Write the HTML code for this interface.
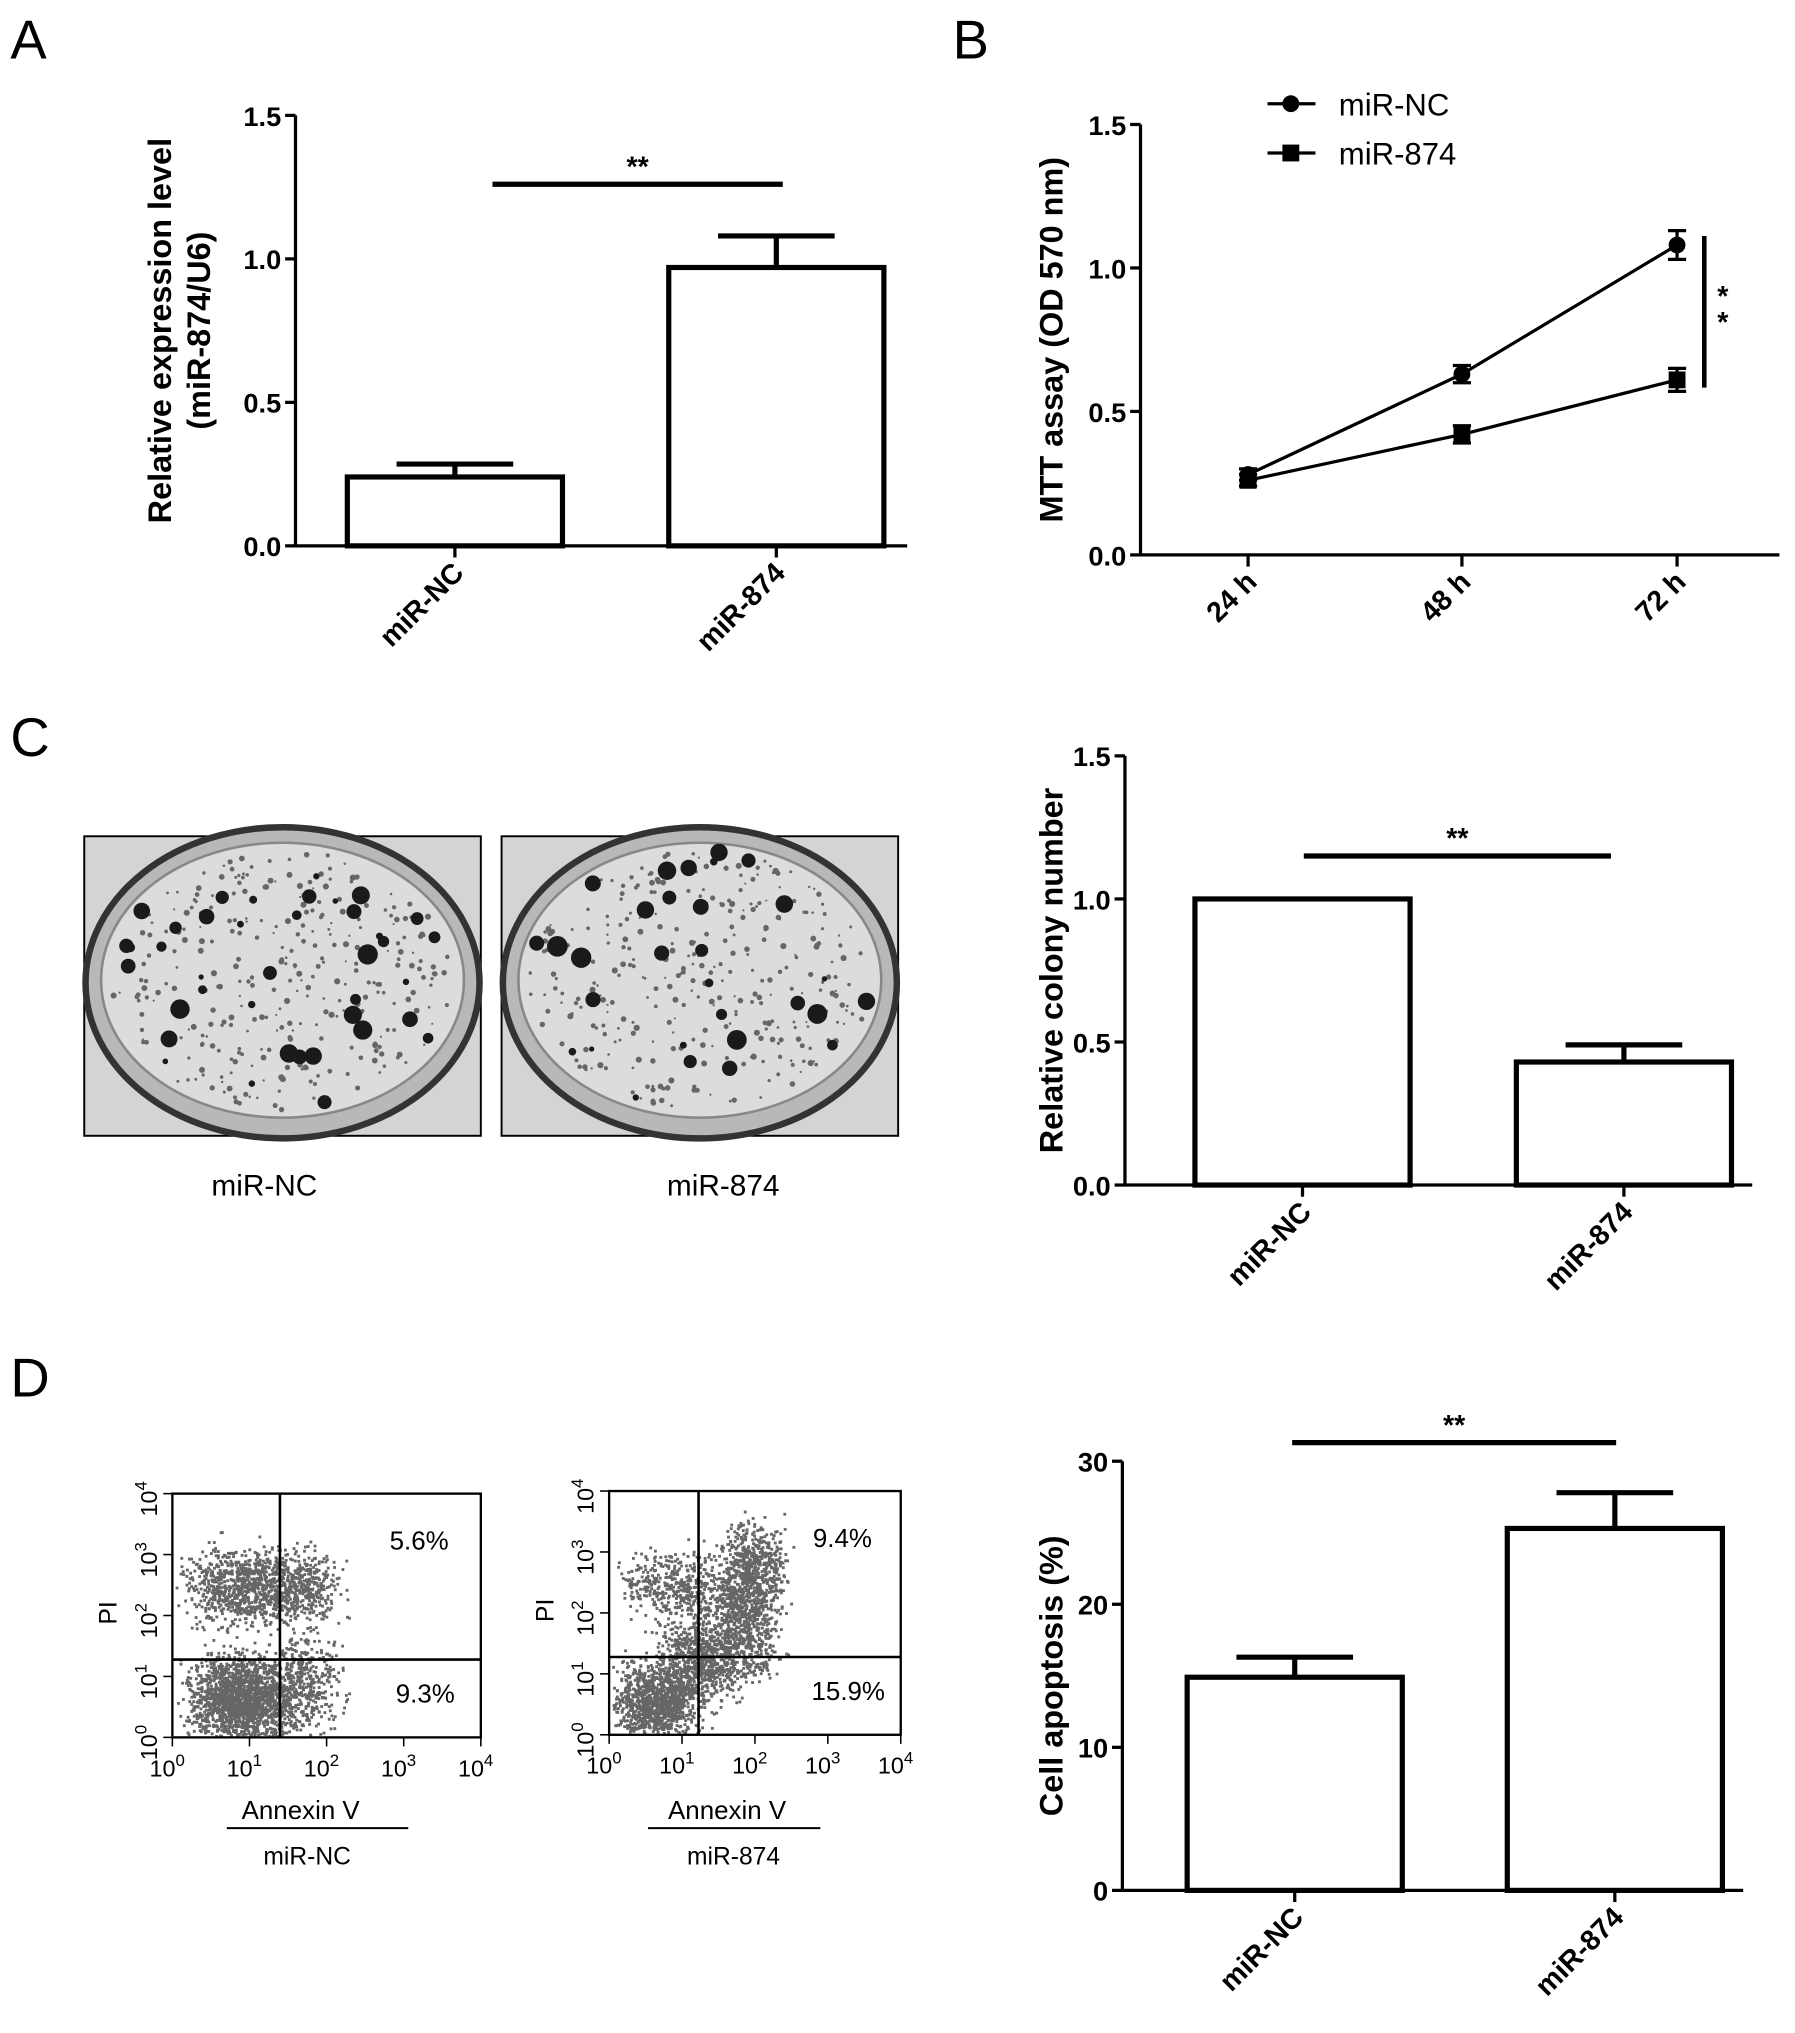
<!DOCTYPE html>
<html><head><meta charset="utf-8"><style>
html,body{margin:0;padding:0;background:#fff}
svg{display:block}
text{font-family:"Liberation Sans",Arial,sans-serif}
</style></head><body>
<svg id="fig" width="1795" height="2033" viewBox="0 0 1385 1568" preserveAspectRatio="none" xmlns="http://www.w3.org/2000/svg">
<rect width="1385" height="1568" fill="#fff"/>
<text x="8" y="45" font-size="42">A</text>
<text x="735" y="45" font-size="42">B</text>
<text x="8" y="583" font-size="42">C</text>
<text x="8" y="1077" font-size="42">D</text>
<g id="gA"></g>
<g id="gB"></g>
<g id="gC"></g>
<g id="gC2"></g>
<g id="gD"></g>
<g id="gD2"></g>
</svg>
<script>
// ---- data ----
const barCats = ["miR-NC","miR-874"];
const aValues = [0.24, 0.97];
const aErrors = [0.045, 0.11];
const aTicks = ["0.0","0.5","1.0","1.5"];
const timeCats = ["24 h","48 h","72 h"];
const ncValues = [0.28, 0.63, 1.08];
const ncErrors = [0.02, 0.03, 0.05];
const m874Values = [0.26, 0.42, 0.61];
const m874Errors = [0.02, 0.03, 0.04];
const bTicks = ["0.0","0.5","1.0","1.5"];
const cValues = [1.0, 0.43];
const cErrors = [0.0, 0.06];
const cTicks = ["0.0","0.5","1.0","1.5"];
const dValues = [14.9, 25.3];
const dErrors = [1.4, 2.5];
const dTicks = ["0","10","20","30"];
const flowPercents = [["5.6%","9.3%"],["9.4%","15.9%"]];
const flowTickLabels = ["0","1","2","3","4"];

const NS="http://www.w3.org/2000/svg";
function mk(parent,tag,attrs,txt){const e=document.createElementNS(NS,tag);for(const k in attrs)e.setAttribute(k,attrs[k]);if(txt!==undefined)e.textContent=txt;parent.appendChild(e);return e;}

function barChart(g,o){
  const y=v=>o.y0-(v/o.max)*(o.y0-o.yTop);
  let e=mk(g,'line',{x1:o.ax,y1:o.yTop,x2:o.ax,y2:o.y0,stroke:'#000','stroke-width':2.5});
  
  e=mk(g,'line',{x1:o.ax,y1:o.y0,x2:o.xEnd,y2:o.y0,stroke:'#000','stroke-width':2.5});
  
  o.ticks.forEach((t,i)=>{const v=o.max*i/(o.ticks.length-1);const yy=y(v);
    mk(g,'line',{x1:o.ax-8,y1:yy,x2:o.ax,y2:yy,stroke:'#000','stroke-width':2.5});
    e=mk(g,'text',{x:o.ax-11,y:yy+8,'font-size':21,'font-weight':'bold','text-anchor':'end'},t);
    });
  e=mk(g,'text',{transform:`translate(${o.titleX},${(o.yTop+o.y0)/2}) rotate(-90)`,'font-size':25,'font-weight':'bold','text-anchor':'middle'});
  
  o.title.forEach((l,i)=>{mk(e,'tspan',{x:0,dy:i?30:0},l);});
  o.values.forEach((v,i)=>{const cx=o.centers[i];const w=166;
    const yv=y(v);
    const b=mk(g,'rect',{x:cx-w/2,y:yv,width:w,height:o.y0-yv,fill:'#fff',stroke:'#000','stroke-width':4});
    
    if(o.errors[i]>0){const ye=y(v+o.errors[i]);
      const eb=mk(g,'path',{d:`M${cx},${yv} V${ye} M${cx-45},${ye} H${cx+45}`,stroke:'#000','stroke-width':4,fill:'none'});
      }
    mk(g,'line',{x1:cx,y1:o.y0,x2:cx,y2:o.y0+9,stroke:'#000','stroke-width':2.5});
    const t=mk(g,'text',{transform:`translate(${cx+8},${o.y0+22}) rotate(-45)`,'font-size':22,'font-weight':'bold','text-anchor':'end'},barCats[i]);
    });
  const sy=y(o.sigV);
  e=mk(g,'line',{x1:o.sig[0],y1:sy,x2:o.sig[1],y2:sy,stroke:'#000','stroke-width':4});
  
  e=mk(g,'text',{x:(o.sig[0]+o.sig[1])/2,y:sy-6,'font-size':22,'font-weight':'bold','text-anchor':'middle'},'**');
  
}
barChart(document.getElementById('gA'),{ax:228,y0:421,yTop:89,xEnd:700,max:1.5,ticks:aTicks,values:aValues,errors:aErrors,centers:[351,599],title:["Relative expression level","(miR-874/U6)"],titleX:132,sig:[380,604],sigV:1.26});
barChart(document.getElementById('gC2'),{ax:868,y0:914,yTop:583,xEnd:1352,max:1.5,ticks:cTicks,values:cValues,errors:cErrors,centers:[1005,1253],title:["Relative colony number"],titleX:820,sig:[1006,1243],sigV:1.15});
barChart(document.getElementById('gD2'),{ax:866,y0:1458,yTop:1127,xEnd:1345,max:30,ticks:dTicks,values:dValues,errors:dErrors,centers:[999,1246],title:["Cell apoptosis (%)"],titleX:820,sig:[997,1247],sigV:31.3});

// ---- panel B line chart ----
(function(){
  const g=document.getElementById('gB');
  const ax=880,y0=428,yTop=96,max=1.5;const xs=[963,1128,1294];
  const y=v=>y0-(v/max)*(y0-yTop);
  let e=mk(g,'line',{x1:ax,y1:yTop,x2:ax,y2:y0,stroke:'#000','stroke-width':2.5});
  
  e=mk(g,'line',{x1:ax,y1:y0,x2:1373,y2:y0,stroke:'#000','stroke-width':2.5});
  
  bTicks.forEach((t,i)=>{const yy=y(max*i/(bTicks.length-1));
    mk(g,'line',{x1:ax-8,y1:yy,x2:ax,y2:yy,stroke:'#000','stroke-width':2.5});
    e=mk(g,'text',{x:ax-11,y:yy+8,'font-size':21,'font-weight':'bold','text-anchor':'end'},t);
    });
  timeCats.forEach((c,i)=>{mk(g,'line',{x1:xs[i],y1:y0,x2:xs[i],y2:y0+9,stroke:'#000','stroke-width':2.5});
    e=mk(g,'text',{transform:`translate(${xs[i]+8},${y0+22}) rotate(-45)`,'font-size':22,'font-weight':'bold','text-anchor':'end'},c);
    });
  e=mk(g,'text',{transform:`translate(820,${(y0+yTop)/2}) rotate(-90)`,'font-size':25,'font-weight':'bold','text-anchor':'middle'},'MTT assay (OD 570 nm)');
  
  function series(vals,errs,shape,name){
    e=mk(g,'polyline',{points:vals.map((v,i)=>xs[i]+','+y(v)).join(' '),fill:'none',stroke:'#000','stroke-width':2.5});
    
    vals.forEach((v,i)=>{const yv=y(v),ye=y(v+errs[i]),yl=y(v-errs[i]);
      mk(g,'path',{d:`M${xs[i]},${yl} V${ye} M${xs[i]-7},${ye} H${xs[i]+7} M${xs[i]-7},${yl} H${xs[i]+7}`,stroke:'#000','stroke-width':2.5});
      const p=shape==='c'?mk(g,'circle',{cx:xs[i],cy:yv,r:6.5,fill:'#000'}):mk(g,'rect',{x:xs[i]-6.5,y:yv-6.5,width:13,height:13,fill:'#000'});
      });
  }
  series(ncValues,ncErrors,'c','mir-nc');
  series(m874Values,m874Errors,'s','mir-874');
  e=mk(g,'g',{});
  mk(e,'line',{x1:978,y1:80,x2:1015,y2:80,stroke:'#000','stroke-width':2.5});mk(e,'circle',{cx:996,cy:80,r:6.5});
  mk(e,'text',{x:1033,y:89,'font-size':24},'miR-NC');
  e=mk(g,'g',{});
  mk(e,'line',{x1:978,y1:118,x2:1015,y2:118,stroke:'#000','stroke-width':2.5});mk(e,'rect',{x:989.5,y:111.5,width:13,height:13});
  mk(e,'text',{x:1033,y:127,'font-size':24},'miR-874');
  e=mk(g,'line',{x1:1315,y1:182,x2:1315,y2:299,stroke:'#000','stroke-width':3.5});
  
  e=mk(g,'text',{x:1325,y:236,'font-size':22,'font-weight':'bold'},'*');
  mk(g,'text',{x:1325,y:256,'font-size':22,'font-weight':'bold'},'*');
  
})();

// ---- seeded texture generator (decorative photo/scatter texture) ----
let seed=12345;function rnd(){seed=(seed*1103515245+12345)&0x7fffffff;return seed/0x7fffffff;}
function gauss(){return (rnd()+rnd()+rnd()-1.5)/1.5;}

// ---- panel C photos ----
(function(){
  const g=document.getElementById('gC');
  [[65,'miR-NC',204,40],[387,'miR-874',558,30]].forEach(([x0,lab,lx,nspots],k)=>{
    const p=mk(g,'g',{});
    mk(p,'rect',{x:x0,y:645,width:306,height:231,fill:'#d4d4d4',stroke:'#000','stroke-width':1.5});
    mk(p,'ellipse',{cx:x0+153,cy:758,rx:152,ry:120,fill:'#b8b8b8',stroke:'#333','stroke-width':5});
    mk(p,'ellipse',{cx:x0+153,cy:756,rx:140,ry:106,fill:'#dcdcdc',stroke:'#888','stroke-width':2});
    for(let i=0;i<320;i++){const a=rnd()*6.283,r=Math.sqrt(rnd());
      mk(p,'circle',{cx:x0+153+Math.cos(a)*r*132,cy:756+Math.sin(a)*r*100,r:0.8+rnd()*1.6,fill:'#666'});}
    for(let i=0;i<nspots;i++){const a=rnd()*6.283,r=Math.sqrt(rnd());
      mk(p,'circle',{cx:x0+153+Math.cos(a)*r*132,cy:756+Math.sin(a)*r*100,r:2+rnd()*6,fill:'#1a1a1a'});}
    const t=mk(g,'text',{x:lx,y:922,'font-size':23,'text-anchor':'middle'},lab);
    
  });
})();

// ---- panel D flow plots ----
(function(){
  const g=document.getElementById('gD');
  const plots=[{x0:133,x1:371,y0:1340,y1:1152,gx:216,gy:1280,lab:'miR-NC',cx:237,ll:175,lr:315},
               {x0:470,x1:695,y0:1338,y1:1150,gx:539,gy:1278,lab:'miR-874',cx:566,ll:500,lr:633}];
  plots.forEach((P,k)=>{
    const p=mk(g,'g',{});
    const W=P.x1-P.x0,H=P.y0-P.y1;
    const clusters=k===0?[[0.22,0.16,0.09,0.10,1800],[0.24,0.62,0.11,0.09,900],[0.42,0.62,0.07,0.08,350],[0.42,0.22,0.07,0.11,450]]
                        :[[0.16,0.14,0.08,0.09,1100],[0.30,0.30,0.08,0.10,700],[0.45,0.48,0.07,0.14,900],[0.50,0.70,0.06,0.10,450],[0.22,0.62,0.10,0.08,450]];
    clusters.forEach(c=>{for(let i=0;i<c[4];i++){
      const fx=c[0]+gauss()*c[2]*2.6,fy=c[1]+gauss()*c[3]*2.6;
      if(fx<0.01||fx>0.98||fy<0.01||fy>0.98)continue;
      mk(p,'rect',{x:P.x0+fx*W,y:P.y0-fy*H,width:2.2,height:2.2,fill:'#666'});}});
    mk(p,'rect',{x:P.x0,y:P.y1,width:W,height:H,fill:'none',stroke:'#000','stroke-width':1.8});
    mk(p,'line',{x1:P.gx,y1:P.y1,x2:P.gx,y2:P.y0,stroke:'#000','stroke-width':2});
    mk(p,'line',{x1:P.x0,y1:P.gy,x2:P.x1,y2:P.gy,stroke:'#000','stroke-width':2});
    flowTickLabels.forEach((t,i)=>{
      const xx=P.x0+W*i/4,yy=P.y0-H*i/4;
      mk(p,'line',{x1:xx,y1:P.y0,x2:xx,y2:P.y0+7,stroke:'#000','stroke-width':1.2});
      mk(p,'line',{x1:P.x0-7,y1:yy,x2:P.x0,y2:yy,stroke:'#000','stroke-width':1.2});
      const tx=mk(p,'text',{x:xx-4,y:P.y0+30,'font-size':18,'text-anchor':'middle'});
      mk(tx,'tspan',{},'10');mk(tx,'tspan',{dy:-8,'font-size':13},t);
      
      const ty=mk(p,'text',{transform:`translate(${P.x0-12},${yy+4}) rotate(-90)`,'font-size':18,'text-anchor':'middle'});
      mk(ty,'tspan',{},'10');mk(ty,'tspan',{dy:-8,'font-size':13},t);
      
    });
    let e=mk(g,'text',{transform:`translate(${P.x0-43},${(P.y0+P.y1)/2-2}) rotate(-90)`,'font-size':19,'text-anchor':'middle'},'PI');
    
    e=mk(g,'text',{x:P.x0+W*0.8,y:P.y1+43,'font-size':20,'text-anchor':'middle'},flowPercents[k][0]);
    
    e=mk(g,'text',{x:P.x0+W*0.82,y:P.y1+161,'font-size':20,'text-anchor':'middle'},flowPercents[k][1]);
    
    e=mk(g,'text',{x:P.cx-5,y:1403,'font-size':20,'text-anchor':'middle'},'Annexin V');
    
    mk(g,'line',{x1:P.ll,y1:1410,x2:P.lr,y2:1410,stroke:'#000','stroke-width':1.5});
    e=mk(g,'text',{x:P.cx,y:1438,'font-size':19,'text-anchor':'middle'},P.lab);
    
  });
})();
</script>
</body></html>
